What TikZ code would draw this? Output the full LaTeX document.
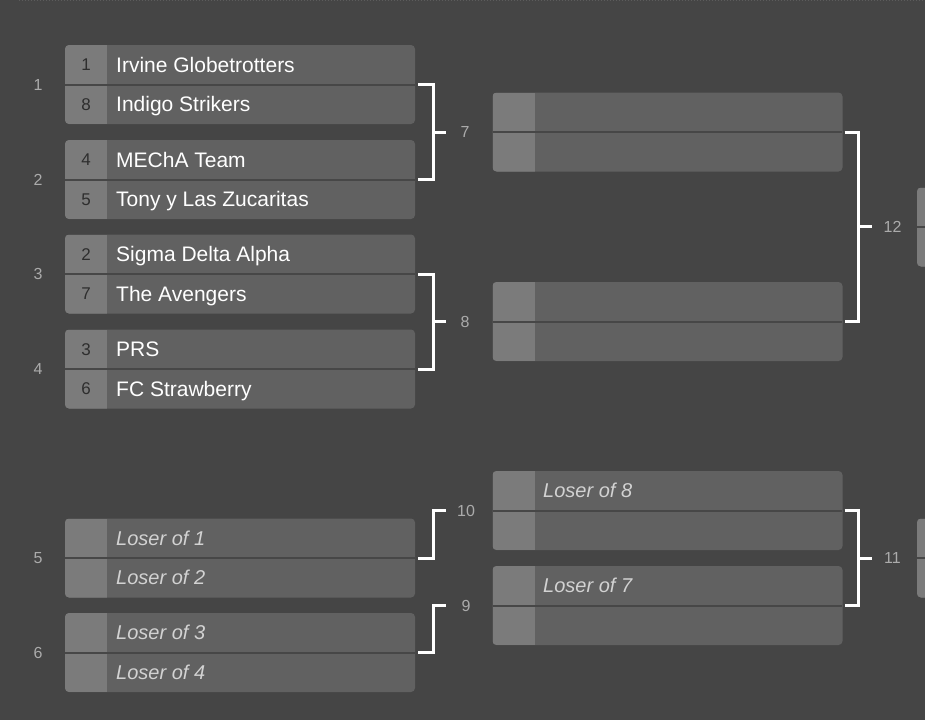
\documentclass[tikz,border=0pt]{standalone}
\usepackage{fontspec}
\setmainfont{Liberation Sans}
\usetikzlibrary{calc}
\definecolor{bg}{HTML}{454545}
\definecolor{boxc}{HTML}{616161}
\definecolor{seedc}{HTML}{7B7B7B}
\definecolor{divc}{HTML}{474747}
\definecolor{lblc}{HTML}{ABABAB}
\definecolor{seedtxt}{HTML}{2E2E2E}
\definecolor{losc}{HTML}{D2D2D2}
\definecolor{dotc}{HTML}{5C5C5C}
\tikzset{
  matchbox/.style={anchor=north west, minimum width=350pt, minimum height=79pt,
    inner sep=0pt, outer sep=0pt, fill=boxc, rounded corners=4pt,
    path picture={
      \fill[seedc, sharp corners] (path picture bounding box.north west) rectangle ([xshift=42pt]path picture bounding box.south west);
      \draw[divc, line width=2pt, sharp corners] (path picture bounding box.west) -- (path picture bounding box.east);}},
  team/.style={anchor=west, text=white, font=\fontsize{21}{21}\selectfont, inner sep=0pt, text height=15pt, text depth=0pt},
  loser/.style={anchor=west, text=losc, font=\fontsize{20}{20}\selectfont\itshape, inner sep=0pt, text height=14.3pt, text depth=0pt},
  seedno/.style={text=seedtxt, font=\fontsize{17}{17}\selectfont, inner sep=0pt, text height=12.2pt, text depth=0pt},
  mlabel/.style={text=lblc, font=\fontsize{16}{16}\selectfont, inner sep=0pt, text height=11.5pt, text depth=0pt},
  bracket/.style={draw=white, line width=3pt},
}
\begin{document}
\begin{tikzpicture}[x=1pt, y=-1pt]
\useasboundingbox (0,0) rectangle (925,720);
\fill[bg] (0,0) rectangle (925,720);
\clip (0,0) rectangle (925,720);
\draw[dotc, dotted, line width=1pt] (19,0.5) -- (925,0.5);

% round 1 (winners)
\node[matchbox] (m1) at (65,45) {};
\node[matchbox] (m2) at (65,140) {};
\node[matchbox] (m3) at (65,234.5) {};
\node[matchbox] (m4) at (65,329.5) {};
% round 1 (losers)
\node[matchbox] (m5) at (65,518.5) {};
\node[matchbox] (m6) at (65,613) {};
% round 2
\node[matchbox] (r7) at (492.5,92.5) {};
\node[matchbox] (r8) at (492.5,282) {};
\node[matchbox] (r10) at (492.5,471) {};
\node[matchbox] (r9) at (492.5,566) {};
% round 3 (partly visible)
\node[matchbox] (r12) at (917,187.5) {};
\node[matchbox] (r11) at (917,518.5) {};

% match numbers
\node[mlabel] (n1) at (38,85) {1};
\node[mlabel] (n2) at (38,180) {2};
\node[mlabel] (n3) at (38,274) {3};
\node[mlabel] (n4) at (38,369) {4};
\node[mlabel] (n5) at (38,558) {5};
\node[mlabel] (n6) at (38,652.5) {6};

% seeds and teams
\node[seedno] (s1a) at (86,64.75) {1};
\node[team] (t1a) at (116,64.75) {Irvine Globetrotters};
\node[seedno] (s1b) at (86,104.25) {8};
\node[team] (t1b) at (116,104.25) {Indigo Strikers};
\node[seedno] (s2a) at (86,159.75) {4};
\node[team] (t2a) at (116,159.75) {MEChA Team};
\node[seedno] (s2b) at (86,199.25) {5};
\node[team] (t2b) at (116,199.25) {Tony y Las Zucaritas};
\node[seedno] (s3a) at (86,254.25) {2};
\node[team] (t3a) at (116,254.25) {Sigma Delta Alpha};
\node[seedno] (s3b) at (86,293.75) {7};
\node[team] (t3b) at (116,293.75) {The Avengers};
\node[seedno] (s4a) at (86,349.25) {3};
\node[team] (t4a) at (116,349.25) {PRS};
\node[seedno] (s4b) at (86,388.75) {6};
\node[team] (t4b) at (116,388.75) {FC Strawberry};

\node[loser] (t5a) at (116,538.25) {Loser of 1};
\node[loser] (t5b) at (116,577.75) {Loser of 2};
\node[loser] (t6a) at (116,632.75) {Loser of 3};
\node[loser] (t6b) at (116,672.25) {Loser of 4};
\node[loser] (t10a) at (543,490.75) {Loser of 8};
\node[loser] (t9a) at (543,585.75) {Loser of 7};

% bracket 7
\draw[bracket] ([xshift=3pt]m1.east) -- ++(15,0) |- ([xshift=3pt]m2.east);
\coordinate (c7) at ($(m1.east)!.5!(m2.east)+(18,0)$);
\draw[bracket] (c7) -- ++(13,0);
\node[mlabel] (l7) at ($(c7)+(32,0)$) {7};
% bracket 8
\draw[bracket] ([xshift=3pt]m3.east) -- ++(15,0) |- ([xshift=3pt]m4.east);
\coordinate (c8) at ($(m3.east)!.5!(m4.east)+(18,0)$);
\draw[bracket] (c8) -- ++(13,0);
\node[mlabel] (l8) at ($(c8)+(32,0)$) {8};
% bracket 10
\coordinate (c10) at ($(m5.east |- r10.west)+(31,0)$);
\draw[bracket] ([xshift=3pt]m5.east) -- ++(15,0) |- (c10);
\node[mlabel] (l10) at ($(c10)+(20,0)$) {10};
% bracket 9
\coordinate (c9) at ($(m6.east |- r9.west)+(31,0)$);
\draw[bracket] ([xshift=3pt]m6.east) -- ++(15,0) |- (c9);
\node[mlabel] (l9) at ($(c9)+(20,0)$) {9};
% bracket 12
\draw[bracket] ([xshift=2pt]r7.east) -- ++(14,0) |- ([xshift=2pt]r8.east);
\coordinate (c12) at ($(r7.east)!.5!(r8.east)+(16,0)$);
\draw[bracket] (c12) -- ++(13.5,0);
\node[mlabel] (l12) at ($(c12)+(34,0)$) {12};
% bracket 11
\draw[bracket] ([xshift=2pt]r10.east) -- ++(14,0) |- ([xshift=2pt]r9.east);
\coordinate (c11) at ($(r10.east)!.5!(r9.east)+(16,0)$);
\draw[bracket] (c11) -- ++(13.5,0);
\node[mlabel] (l11) at ($(c11)+(34,0)$) {11};
\end{tikzpicture}
\end{document}
